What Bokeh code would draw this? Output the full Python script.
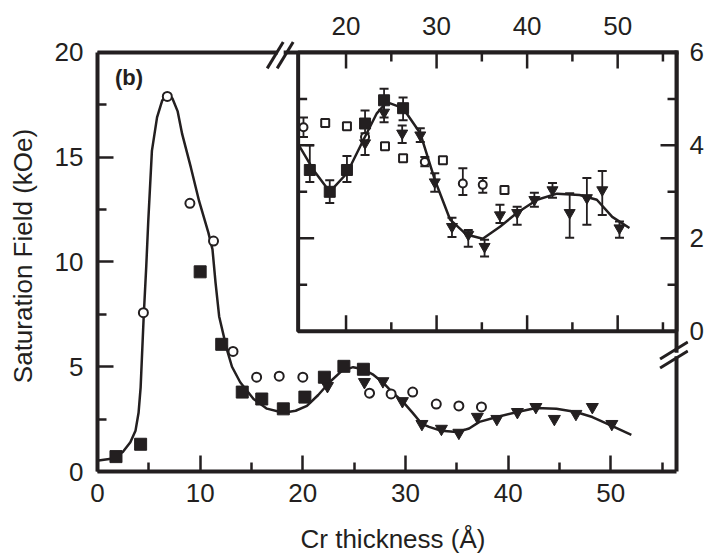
import math
from bokeh.plotting import figure
from bokeh.models import Range1d, LinearAxis, FixedTicker, Label
from bokeh.embed import file_html
from bokeh.resources import INLINE

INK = "#231f20"
FONT = "Liberation Sans"

# ---------------- main panel data (Cr thickness in Å, saturation field in kOe)
curve_x = [0.1, 1.5, 2.5, 3.2, 3.7, 4.0, 4.2, 4.5, 4.75, 4.95, 5.3, 5.8, 6.3, 6.8, 7.3, 7.8,
           8.25, 9.1, 9.9, 10.8, 11.2, 11.5, 11.85, 12.6, 13.1, 13.9, 15.2, 16.5, 18.1, 19.3,
           20.4, 21.5, 22.6, 23.8, 24.9, 25.9, 26.8, 27.8, 28.7, 29.7, 30.7, 31.6, 32.3, 33.5,
           35.0, 36.2, 37.2, 38.9, 40.9, 42.7, 44.7, 46.6, 48.2, 50.1, 52.0]
curve_y = [0.52, 0.62, 0.95, 1.4, 1.94, 2.8, 4.0, 7.4, 9.8, 12.0, 15.3, 16.9, 17.7, 18.0, 17.8, 17.2,
           16.1, 14.5, 12.9, 11.4, 10.6, 9.0, 7.4, 5.83, 5.0, 4.26, 3.46, 3.0, 2.8, 2.9,
           3.13, 3.65, 4.26, 4.8, 4.98, 4.88, 4.64, 4.25, 3.79, 3.36, 2.8, 2.27, 2.13, 1.94,
           1.88, 2.05, 2.37, 2.6, 2.84, 3.03, 2.99, 2.84, 2.6, 2.18, 1.75]

sq_x = [1.8, 4.2, 10.0, 12.1, 14.1, 16.0, 18.1, 20.2, 22.1, 24.0, 25.9]
sq_y = [0.71, 1.3, 9.53, 6.07, 3.79, 3.46, 2.99, 3.55, 4.5, 5.02, 4.88]

circ_x = [4.47, 6.8, 9.0, 11.3, 13.2, 15.5, 17.7, 20.0, 26.5, 28.6, 30.7, 33.0, 35.2, 37.4]
circ_y = [7.58, 17.9, 12.8, 11.0, 5.73, 4.5, 4.55, 4.5, 3.74, 3.7, 3.79, 3.22, 3.13, 3.08]

tri_x = [22.4, 26.0, 27.8, 29.7, 31.6, 33.5, 35.2, 37.0, 38.9, 40.9, 42.7, 44.5, 46.6, 48.2, 50.1]
tri_y = [4.08, 4.27, 4.31, 3.36, 2.27, 2.04, 1.85, 2.61, 2.51, 2.84, 3.08, 2.51, 2.75, 3.08, 2.27]

# ---------------- inset data
in_curve_x = [14.8, 16.4, 18.2, 20.1, 21.9, 23.4, 24.5, 26.3, 28.2, 29.8, 31.5, 33.3, 35.1,
              37.0, 38.9, 41.1, 43.3, 45.8, 47.7, 49.4, 51.3]
in_curve_y = [4.0, 3.47, 3.0, 3.4, 4.11, 4.69, 4.93, 4.8, 4.26, 3.26, 2.4, 2.08, 1.99,
              2.25, 2.55, 2.83, 2.96, 2.93, 2.83, 2.46, 2.22]

in_sq_x = [16.0, 18.2, 20.1, 22.1, 24.2, 26.3]
in_sq_y = [3.47, 3.0, 3.47, 4.47, 4.97, 4.8]
in_sq_lo = [3.21, 2.76, 3.21, 4.18, 4.6, 4.54]
in_sq_hi = [4.0, 3.25, 3.77, 4.75, 5.22, 5.03]

in_tri_x = [22.1, 24.2, 26.2, 28.2, 29.8, 31.7, 33.5, 35.3, 37.0, 38.9, 40.8, 42.8, 44.7, 46.6, 48.3, 50.2]
in_tri_y = [4.05, 4.71, 4.26, 4.22, 3.21, 2.25, 2.08, 1.82, 2.5, 2.55, 2.83, 3.04, 2.55, 2.87, 3.04, 2.22]
in_tri_lo = [3.79, 4.5, 4.05, 4.07, 3.0, 2.03, 1.82, 1.61, 2.33, 2.29, 2.68, 2.87, 2.01, 2.29, 2.5, 2.01]
in_tri_hi = [4.26, 4.9, 4.43, 4.37, 3.4, 2.44, 2.18, 1.97, 2.72, 2.68, 2.98, 3.19, 2.97, 3.3, 3.45, 2.36]

in_osq_x = [17.7, 20.1, 24.3, 26.3, 30.7, 37.5]
in_osq_y = [4.48, 4.41, 3.98, 3.72, 3.68, 3.04]

in_oc_x = [15.3, 22.1, 28.7, 32.9, 35.1]
in_oc_y = [4.39, 4.18, 3.64, 3.18, 3.15]
in_oc_err_x = [15.3, 28.7, 32.9, 35.1]
in_oc_err_lo = [4.18, 3.55, 2.93, 2.98]
in_oc_err_hi = [4.6, 3.75, 3.51, 3.3]

# ---------------- ticks
main_xticks = [0, 10, 20, 30, 40, 50]
main_xminor = [5, 15, 25, 35, 45, 55]
main_yticks = [0, 5, 10, 15, 20]
main_yminor = [2.5, 7.5, 12.5, 17.5]
in_xticks = [20, 30, 40, 50]
in_xminor = [25, 35, 45, 55]
in_yticks = [0, 2, 4, 6]
in_yminor = [1, 3, 5]

# ---------------- box geometry (axis limits); the frame is padded a little on top/right
MAIN_X = (0, 56.4)
MAIN_Y = (0, 20)
IN_X = (14.71, 56.5)      # inset axis limits
IN_Y = (0, 6)
IN_XFULL = (-7.45, 56.5)  # inset x scale mapped over the whole main box width
IN_YFULL = (-3.02, 6.0)   # inset y scale mapped over the whole main box height
BOX_W, BOX_H, PAD = 580, 421, 12
fx = (BOX_W + PAD) / BOX_W
fy = (BOX_H + PAD) / BOX_H

# axis-break decorations (main-panel units)
BRK_TOP_X = [(16.53, 18.09), (17.50, 19.06)]
BRK_TOP_Y = (19.24, 20.5)
BRK_TOP_GAP = (17.36, 18.33)
BRK_R_X = (54.8, 57.5)
BRK_R_Y = [(4.94, 5.75), (5.37, 6.18)]
BRK_R_GAP = (5.4, 5.76)

p = figure(width=706, height=556,
           x_range=Range1d(MAIN_X[0], MAIN_X[0] + (MAIN_X[1] - MAIN_X[0]) * fx),
           y_range=Range1d(MAIN_Y[0], MAIN_Y[0] + (MAIN_Y[1] - MAIN_Y[0]) * fy),
           output_backend="svg", toolbar_location=None,
           min_border_left=97, min_border_right=706 - 97 - BOX_W - PAD,
           min_border_top=52 - PAD, min_border_bottom=83)
p.extra_x_ranges = {"ix": Range1d(IN_XFULL[0], IN_XFULL[0] + (IN_XFULL[1] - IN_XFULL[0]) * fx)}
p.extra_y_ranges = {"iy": Range1d(IN_YFULL[0], IN_YFULL[0] + (IN_YFULL[1] - IN_YFULL[0]) * fy)}
p.grid.visible = False
p.background_fill_color = "white"
p.border_fill_color = "white"
p.outline_line_color = None


def style_axis(ax, major, minor, standoff, ticks=True, size="26px"):
    ax.ticker = FixedTicker(ticks=major, minor_ticks=minor)
    ax.axis_line_color = INK
    ax.axis_line_width = 4
    ax.major_tick_in = 16 if ticks else 0
    ax.major_tick_out = 0
    ax.minor_tick_in = 9 if ticks else 0
    ax.minor_tick_out = 0
    ax.major_tick_line_color = INK if ticks else None
    ax.minor_tick_line_color = INK if ticks else None
    ax.major_tick_line_width = 2.5
    ax.minor_tick_line_width = 2.5
    ax.major_label_text_font = FONT
    ax.major_label_text_font_size = size
    ax.major_label_text_color = INK
    ax.major_label_standoff = standoff
    ax.axis_label_text_font = FONT
    ax.axis_label_text_font_size = "26px"
    ax.axis_label_text_font_style = "normal"
    ax.axis_label_text_color = INK


xa = p.xaxis[0]
style_axis(xa, main_xticks, main_xminor, 12)
xa.bounds = MAIN_X
xa.axis_label = "Cr thickness (Å)"
xa.axis_label_standoff = 19

ya = p.yaxis[0]
style_axis(ya, main_yticks, main_yminor, 14)
ya.bounds = MAIN_Y
ya.axis_label = "Saturation Field (kOe)"
ya.axis_label_standoff = 14

# inset tick labels (top and right); their tick marks are drawn at the box edge below
ax_top = LinearAxis(x_range_name="ix")
style_axis(ax_top, in_xticks, in_xminor, 6, ticks=False)
ax_top.axis_line_color = None
p.add_layout(ax_top, "above")
ax_right = LinearAxis(y_range_name="iy")
style_axis(ax_right, in_yticks, in_yminor, 1, ticks=False)
ax_right.axis_line_color = None
p.add_layout(ax_right, "right")

# ---------------- main box: top and right borders with break marks
LW = 4
p.segment(x0=[MAIN_X[0], BRK_TOP_GAP[1]], y0=[MAIN_Y[1]] * 2, x1=[BRK_TOP_GAP[0], MAIN_X[1]],
          y1=[MAIN_Y[1]] * 2, line_color=INK, line_width=LW, line_cap="square")
p.segment(x0=[MAIN_X[1]] * 2, y0=[MAIN_Y[0], BRK_R_GAP[1]], x1=[MAIN_X[1]] * 2,
          y1=[BRK_R_GAP[0], MAIN_Y[1]], line_color=INK, line_width=LW, line_cap="square")
p.segment(x0=[a for a, b in BRK_TOP_X], y0=[BRK_TOP_Y[0]] * 2, x1=[b for a, b in BRK_TOP_X],
          y1=[BRK_TOP_Y[1]] * 2, line_color=INK, line_width=3)
p.segment(x0=[BRK_R_X[0]] * 2, y0=[a for a, b in BRK_R_Y], x1=[BRK_R_X[1]] * 2,
          y1=[b for a, b in BRK_R_Y], line_color=INK, line_width=3)

# ---------------- main panel glyphs
p.line(curve_x, curve_y, line_color=INK, line_width=2.5)
p.scatter(sq_x, sq_y, marker="square", size=12, fill_color=INK, line_color=INK)
p.scatter(tri_x, tri_y, marker="inverted_triangle", size=12, fill_color=INK, line_color=INK)
p.scatter(circ_x, circ_y, marker="circle", size=9, fill_color="white", line_color=INK, line_width=2)

# ---------------- inset
R = dict(x_range_name="ix", y_range_name="iy")
p.quad(left=[IN_X[0]], right=[IN_X[1]], bottom=[IN_Y[0]], top=[IN_Y[1]], fill_color="white",
       line_color=INK, line_width=LW, **R)


def inset_ticks(xs, ys, angle, major, minor):
    p.ray(x=xs(major), y=ys(major), length=16, length_units="screen", angle=angle,
          line_color=INK, line_width=2.5, **R)
    p.ray(x=xs(minor), y=ys(minor), length=9, length_units="screen", angle=angle,
          line_color=INK, line_width=2.5, **R)


in_y_inner = [t for t in in_yticks if IN_Y[0] < t < IN_Y[1]]
# left edge (pointing right) and right edge (pointing left)
inset_ticks(lambda t: [IN_X[0]] * len(t), lambda t: t, 0, in_y_inner, in_yminor)
inset_ticks(lambda t: [IN_X[1]] * len(t), lambda t: t, math.pi, in_y_inner, in_yminor)
# bottom edge (pointing up) and top edge (pointing down)
inset_ticks(lambda t: t, lambda t: [IN_Y[0]] * len(t), math.pi / 2, in_xticks, in_xminor)
inset_ticks(lambda t: t, lambda t: [IN_Y[1]] * len(t), -math.pi / 2, in_xticks, in_xminor)

# error bars
for ex, lo, hi in [(in_sq_x, in_sq_lo, in_sq_hi), (in_tri_x, in_tri_lo, in_tri_hi),
                   (in_oc_err_x, in_oc_err_lo, in_oc_err_hi)]:
    p.segment(x0=ex, y0=lo, x1=ex, y1=hi, line_color=INK, line_width=1.8, **R)
    p.scatter(ex, lo, marker="dash", size=9, line_color=INK, line_width=2, **R)
    p.scatter(ex, hi, marker="dash", size=9, line_color=INK, line_width=2, **R)

p.scatter(in_osq_x, in_osq_y, marker="square", size=8, fill_color="white", line_color=INK, line_width=2, **R)
p.scatter(in_oc_x, in_oc_y, marker="circle", size=8, fill_color="white", line_color=INK, line_width=2, **R)
p.line(in_curve_x, in_curve_y, line_color=INK, line_width=2.5, **R)
p.scatter(in_sq_x, in_sq_y, marker="square", size=11, fill_color=INK, line_color=INK, **R)
p.scatter(in_tri_x, in_tri_y, marker="inverted_triangle", size=11, fill_color=INK, line_color=INK, **R)

# ---------------- panel label
p.add_layout(Label(x=1.7, y=18.8, text="(b)", text_font=FONT, text_font_size="22px",
                   text_font_style="bold", text_color=INK, text_baseline="middle", text_align="left"))

open("out.html", "w").write(file_html(p, INLINE))
